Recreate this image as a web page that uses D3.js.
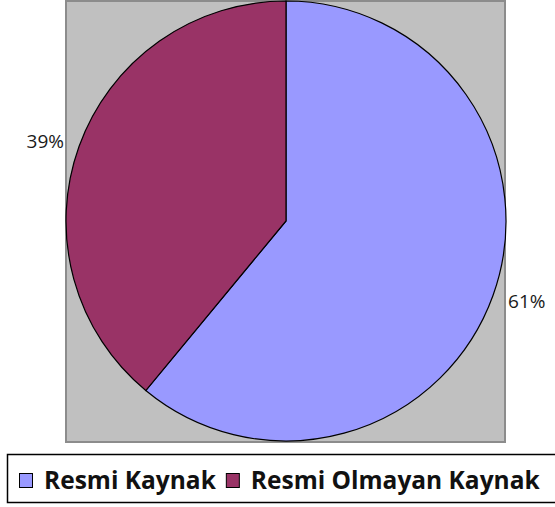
<!DOCTYPE html>
<html>
<head>
<meta charset="utf-8">
<script src="https://cdn.jsdelivr.net/npm/d3@7"></script>
<style>
  body { margin: 0; background: #fff; }
  svg { display: block; }
</style>
</head>
<body>
<script>
// pie data
const categories = ["Resmi Kaynak", "Resmi Olmayan Kaynak"];
const values = [61, 39];
const colors = ["#9999ff", "#993366"];

function main(){
    const width = 555, height = 507;
    const plot = {x: 65, y: 0, w: 441, h: 443};
    const cx = 286, cy = 221, radius = 220;

    const svg = d3.select("body").append("svg")
        .attr("width", width)
        .attr("height", height);

    // gray plot area
    svg.append("rect")
        .attr("x", plot.x + 1)
        .attr("y", plot.y + 1)
        .attr("width", plot.w - 2)
        .attr("height", plot.h - 2)
        .attr("fill", "#c0c0c0")
        .attr("stroke", "#8c8c8c")
        .attr("stroke-width", 2);

    const pie = d3.pie().sort(null).value(d => d.value);
    const data = categories.map((c, i) => ({name: c, value: values[i], color: colors[i]}));
    const arcs = pie(data);

    const arc = d3.arc().innerRadius(0).outerRadius(radius);
    const labelArc = d3.arc().innerRadius(236).outerRadius(236);

    const g = svg.append("g").attr("transform", "translate(" + cx + "," + cy + ")");

    g.selectAll("path")
        .data(arcs)
        .enter().append("path")
        .attr("d", arc)
        .attr("fill", d => d.data.color)
        .attr("stroke", "#000")
        .attr("stroke-width", 1.2);

    const total = d3.sum(values);
    g.selectAll("text.pct")
        .data(arcs)
        .enter().append("text")
        .attr("class", "pct")
        .attr("transform", d => "translate(" + labelArc.centroid(d) + ")")
        .attr("text-anchor", d => (d.startAngle + d.endAngle) / 2 > Math.PI ? "end" : "start")
        .attr("dy", "0.35em")
        .style("font-family", "'Open Sans', sans-serif")
        .style("font-size", "19px")
        .attr("fill", "#1a1a1a")
        .text(d => Math.round(d.data.value / total * 100) + "%");

    // legend
    svg.append("rect")
        .attr("x", 7.5)
        .attr("y", 454.5)
        .attr("width", 560)
        .attr("height", 48)
        .attr("fill", "#fff")
        .attr("stroke", "#000")
        .attr("stroke-width", 1.5);

    let lx = 19;
    data.forEach(function(d){
        const item = svg.append("g");
        item.append("rect")
            .attr("x", lx + 0.5)
            .attr("y", 473.5)
            .attr("width", 13)
            .attr("height", 14)
            .attr("fill", d.color)
            .attr("stroke", "#000")
            .attr("stroke-width", 1);
        const t = item.append("text")
            .attr("x", lx + 25)
            .attr("y", 489)
            .style("font-family", "'Open Sans', sans-serif")
            .style("font-weight", "bold")
            .style("font-size", "24.5px")
            .attr("fill", "#111")
            .text(d.name);
        lx = lx + 25 + t.node().getComputedTextLength() + 10;
    });
}
main();
</script>
</body>
</html>
